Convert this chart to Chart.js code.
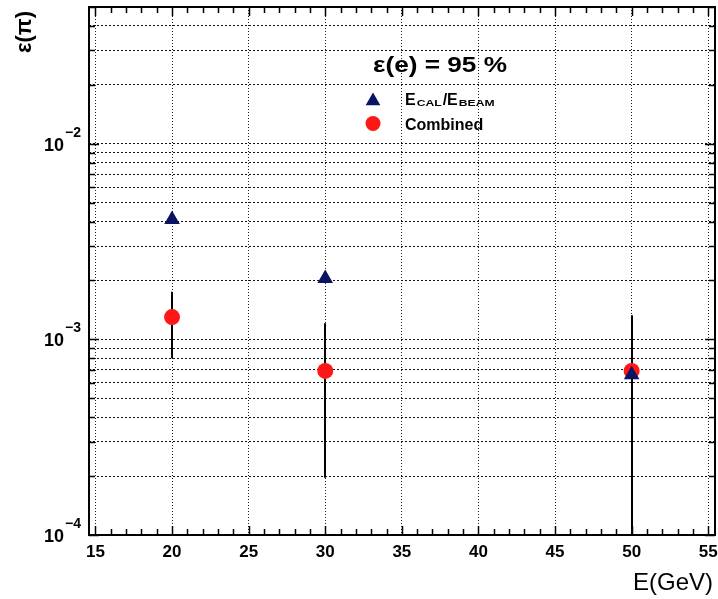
<!DOCTYPE html>
<html>
<head>
<meta charset="utf-8">
<script src="https://cdn.jsdelivr.net/npm/chart.js@4.4.0/dist/chart.umd.min.js"></script>
<style>
  html, body { margin: 0; padding: 0; background: #fff; }
  #wrap { width: 718px; height: 599px; }
</style>
</head>
<body>
<div id="wrap"><canvas id="chart" width="718" height="599"></canvas></div>
<script>
// values
const energies = [20, 30, 50]
const ecalRatio = [4.1e-3, 2.05e-3, 6.6e-4]
const combined = [1.3e-3, 6.9e-4, 6.9e-4]
const combinedLow = [8.0e-4, 1.96e-4, 5e-5]
const combinedHigh = [1.75e-3, 1.21e-3, 1.33e-3]

const xLabelTicks = [15, 20, 25, 30, 35, 40, 45, 50, 55]
const yDecades = [1e-4, 1e-3, 1e-2]
const yDecadeExp = ['\u22124', '\u22123', '\u22122']
const cutLabel = '\u03b5(e) = 95 %'
const xTitle = 'E(GeV)'
const yTitle = '\u03b5(\u03c0)'

const xMin = 14.58, xMax = 55.44
const yMin = 1e-4, yMax = 5e-2

const NAVY = '#0b1462'
const RED = '#ff1616'
const FONT = '"Liberation Sans", Arial, sans-serif'

const xMinorTicks = []
for (let v = 15; v <= 55; v++) xMinorTicks.push(v)
const yMinorTicks = []
yDecades.forEach(d => {
  for (let k = 1; k <= 9; k++) {
    if (k * d <= yMax * 1.0001) yMinorTicks.push(k * d)
  }
})

function drawTriangle(c, x, y, r) {
  c.beginPath()
  c.moveTo(x, y - r)
  c.lineTo(x + r * 0.866, y + r / 2)
  c.lineTo(x - r * 0.866, y + r / 2)
  c.closePath()
  c.fill()
}

const decorations = {
  id: 'decorations',
  beforeDatasetsDraw(chart) {
    const c = chart.ctx
    const { x, y } = chart.scales
    const area = chart.chartArea
    c.save()
    c.beginPath()
    c.rect(area.left, area.top, area.right - area.left, area.bottom - area.top)
    c.clip()
    c.strokeStyle = '#000'
    c.lineWidth = 2
    energies.forEach((e, i) => {
      const px = Math.round(x.getPixelForValue(e))
      c.beginPath()
      c.moveTo(px, y.getPixelForValue(combinedHigh[i]))
      c.lineTo(px, y.getPixelForValue(combinedLow[i]))
      c.stroke()
    })
    c.restore()
  },
  afterDraw(chart) {
    const c = chart.ctx
    const { x, y } = chart.scales
    const area = chart.chartArea
    c.save()

    // frame
    c.strokeStyle = '#000'
    c.lineWidth = 2
    c.strokeRect(area.left, area.top, area.right - area.left, area.bottom - area.top)

    // inward tick marks
    c.lineWidth = 1.5
    c.beginPath()
    xMinorTicks.forEach(v => {
      const px = Math.round(x.getPixelForValue(v)) + 0.5
      const len = xLabelTicks.includes(v) ? 9 : 6
      c.moveTo(px, area.bottom)
      c.lineTo(px, area.bottom - len)
      c.moveTo(px, area.top)
      c.lineTo(px, area.top + len)
    })
    yMinorTicks.forEach(v => {
      const py = Math.round(y.getPixelForValue(v)) + 0.5
      const len = yDecades.includes(v) ? 10 : 6
      c.moveTo(area.left, py)
      c.lineTo(area.left + len, py)
      c.moveTo(area.right, py)
      c.lineTo(area.right - len, py)
    })
    c.stroke()

    c.fillStyle = '#000'

    // x tick labels
    c.font = 'bold 17px ' + FONT
    c.textAlign = 'center'
    c.textBaseline = 'middle'
    xLabelTicks.forEach(v => {
      c.fillText(String(v), x.getPixelForValue(v), 552)
    })

    // y tick labels 10^n
    c.textBaseline = 'alphabetic'
    yDecades.forEach((d, i) => {
      const py = y.getPixelForValue(d)
      c.font = 'bold 18px ' + FONT
      c.textAlign = 'right'
      c.fillText('10', 64, py + 7)
      c.font = 'bold 14px ' + FONT
      c.textAlign = 'left'
      c.fillText(yDecadeExp[i], 65, py - 7)
    })

    // axis titles
    c.font = '24px ' + FONT
    c.textAlign = 'right'
    c.fillText(xTitle, 713, 590)

    c.save()
    c.translate(25, 32)
    c.rotate(-Math.PI / 2)
    c.font = 'bold 22px ' + FONT
    c.textAlign = 'center'
    c.textBaseline = 'middle'
    c.fillText(yTitle, 0, 0)
    c.restore()

    // legend block
    c.textAlign = 'left'
    c.font = 'bold 22px ' + FONT
    c.save()
    const w = c.measureText(cutLabel).width
    c.translate(373, 72)
    c.scale(134 / w, 1)
    c.fillText(cutLabel, 0, 0)
    c.restore()

    c.fillStyle = NAVY
    drawTriangle(c, 373, 101, 8.5)
    c.fillStyle = RED
    c.beginPath()
    c.arc(373, 123.5, 7.5, 0, Math.PI * 2)
    c.fill()

    c.fillStyle = '#000'
    let tx = 405
    const parts = [['E', 16, 0], ['CAL', 9, 1], ['/', 16, 0], ['E', 16, 0], ['BEAM', 9, 1]]
    parts.forEach(([t, s, sub]) => {
      c.font = 'bold ' + s + 'px ' + FONT
      if (sub) {
        c.save()
        c.translate(tx + 1, 106)
        c.scale(1.35, 1)
        c.fillText(t, 0, 0)
        c.restore()
        tx += c.measureText(t).width * 1.35 + 2
      } else {
        c.fillText(t, tx, 105)
        tx += c.measureText(t).width
      }
    })
    c.font = 'bold 16px ' + FONT
    c.fillText('Combined', 405, 130)

    c.restore()
  }
}

new Chart(document.getElementById('chart'), {
  type: 'scatter',
  data: {
    datasets: [
      {
        label: 'E_CAL/E_BEAM',
        data: energies.map((e, i) => ({ x: e, y: ecalRatio[i] })),
        pointStyle: 'triangle',
        pointRadius: 9,
        backgroundColor: NAVY,
        borderColor: NAVY,
        borderWidth: 0
      },
      {
        label: 'Combined',
        data: energies.map((e, i) => ({ x: e, y: combined[i] })),
        pointStyle: 'circle',
        pointRadius: 8,
        backgroundColor: RED,
        borderColor: RED,
        borderWidth: 0
      }
    ]
  },
  options: {
    responsive: false,
    animation: false,
    layout: { autoPadding: false, padding: { top: 7, right: 3, left: 0, bottom: 0 } },
    plugins: {
      legend: { display: false },
      tooltip: { enabled: false }
    },
    scales: {
      x: {
        type: 'linear',
        min: xMin,
        max: xMax,
        afterBuildTicks: s => { s.ticks = xMinorTicks.map(v => ({ value: v })) },
        afterFit: s => { s.height = 64 },
        grid: {
          color: c => (c.tick && xLabelTicks.includes(c.tick.value)) ? '#222' : 'rgba(0,0,0,0)',
          lineWidth: 1,
          drawTicks: false
        },
        border: { display: false, dash: [1, 2] },
        ticks: { display: false }
      },
      y: {
        type: 'logarithmic',
        min: yMin,
        max: yMax,
        afterBuildTicks: s => { s.ticks = yMinorTicks.map(v => ({ value: v })) },
        afterFit: s => { s.width = 89 },
        grid: { color: '#111', lineWidth: 1, drawTicks: false },
        border: { display: false, dash: [2, 2] },
        ticks: { display: false }
      }
    }
  },
  plugins: [decorations]
})
</script>
</body>
</html>
